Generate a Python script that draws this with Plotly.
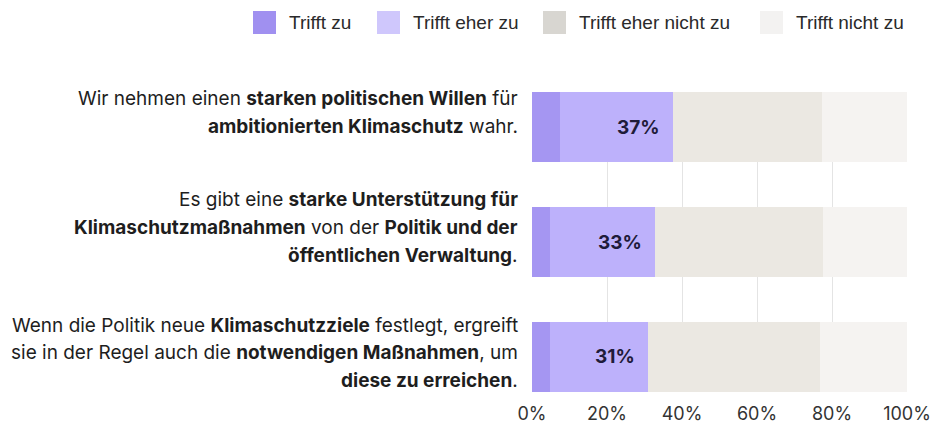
import plotly.graph_objects as go

# ---------------- data ----------------
statements = [
    "Wir nehmen einen starken politischen Willen für ambitionierten Klimaschutz wahr.",
    "Es gibt eine starke Unterstützung für Klimaschutzmaßnahmen von der Politik und der öffentlichen Verwaltung.",
    "Wenn die Politik neue Klimaschutzziele festlegt, ergreift sie in der Regel auch die notwendigen Maßnahmen, um diese zu erreichen.",
]
statement_lines = [
    ["Wir nehmen einen <b>starken politischen Willen</b> für",
     "<b>ambitionierten Klimaschutz</b> wahr."],
    ["Es gibt eine <b>starke Unterstützung für</b>",
     "<b>Klimaschutzmaßnahmen</b> von der <b>Politik und der</b>",
     "<b>öffentlichen Verwaltung</b>."],
    ["Wenn die Politik neue <b>Klimaschutzziele</b> festlegt, ergreift",
     "sie in der Regel auch die <b>notwendigen Maßnahmen</b>, um",
     "<b>diese zu erreichen</b>."],
]
series_names = ["Trifft zu", "Trifft eher zu", "Trifft eher nicht zu", "Trifft nicht zu"]
trifft_zu = [7.5, 4.7, 4.7]
trifft_eher_zu = [30.2, 28.2, 26.2]
trifft_eher_nicht_zu = [39.6, 44.7, 45.8]
trifft_nicht_zu = [22.7, 22.4, 23.3]
agree_labels = ["37%", "33%", "31%"]
tick_values = [0, 20, 40, 60, 80, 100]
tick_labels = ["0%", "20%", "40%", "60%", "80%", "100%"]

# ---------------- style ----------------
colors = ["#a596f2", "#bdb1fb", "#ebe8e2", "#f5f3f1"]
legend_colors = ["#a090f0", "#cfc7fc", "#d8d6d1", "#f3f2f1"]
W, H = 939, 425
ML, MR, MT, MB = 532, 32, 92, 33
PW = W - ML - MR
PH = H - MT - MB
label_font = "Inter, Roboto, Arial, sans-serif"
label_offsets = [14.5, 14.7, 4.0]   # px upward shift of label block vs bar centre
line_gap = 27.8

series_values = [trifft_zu, trifft_eher_zu, trifft_eher_nicht_zu, trifft_nicht_zu]

fig = go.Figure()
for name, vals, col in zip(series_names, series_values, colors):
    fig.add_trace(go.Bar(
        y=statements, x=vals, name=name, orientation="h",
        marker=dict(color=col, line=dict(width=0)),
        showlegend=False, hoverinfo="x+name",
    ))

annotations = []
shapes = []

# value labels (sum of agree categories), anchored at the end of the 2nd segment
for s, a, b, lab in zip(statements, trifft_zu, trifft_eher_zu, agree_labels):
    annotations.append(dict(
        x=a + b, y=s, xref="x", yref="y", text=f"<b>{lab}</b>",
        xanchor="right", yanchor="middle", xshift=-11, showarrow=False,
        font=dict(family=label_font, size=19, color="#1f1b3a"),
    ))

# statement labels, one annotation per line
for s, lines, off in zip(statements, statement_lines, label_offsets):
    n = len(lines)
    for j, ln in enumerate(lines):
        shift = off - (j - (n - 1) / 2) * line_gap
        annotations.append(dict(
            x=(520 - ML) / PW, xref="paper", y=s, yref="y", yshift=shift,
            text=ln, xanchor="right", yanchor="middle", showarrow=False,
            font=dict(family=label_font, size=19, color="#1e1e1e"),
        ))

# custom legend
legend_sq_x = [253, 377, 543, 760]
sq = 23
leg_y = 22.5
def px_x(p):
    return (p - ML) / PW
def px_y(p):
    return (H - MB - p) / PH
for name, col, x0 in zip(series_names, legend_colors, legend_sq_x):
    shapes.append(dict(
        type="rect", xref="paper", yref="paper",
        x0=px_x(x0), x1=px_x(x0 + sq), y0=px_y(leg_y + sq / 2), y1=px_y(leg_y - sq / 2),
        fillcolor=col, line=dict(width=0), layer="above",
    ))
    annotations.append(dict(
        x=px_x(x0 + sq + 11), y=px_y(leg_y), xref="paper", yref="paper",
        text=name, xanchor="left", yanchor="middle", showarrow=False,
        font=dict(family="Liberation Sans, Arial, sans-serif", size=19, color="#2a2a2a"),
    ))

fig.update_layout(
    width=W, height=H,
    margin=dict(l=ML, r=MR, t=MT, b=MB, pad=0, autoexpand=False),
    barmode="stack", bargap=0.39,
    plot_bgcolor="white", paper_bgcolor="white",
    showlegend=False,
    xaxis=dict(
        range=[0, 100], tickvals=tick_values, ticktext=tick_labels,
        showgrid=True, gridcolor="#e4e4e4", gridwidth=1, zeroline=False,
        ticks="outside", ticklen=5, tickcolor="rgba(0,0,0,0)",
        tickfont=dict(family=label_font, size=18, color="#333333"),
        automargin=False, fixedrange=True,
    ),
    yaxis=dict(
        categoryorder="array", categoryarray=statements,
        range=[2.305, -0.305], showticklabels=False, showgrid=False,
        zeroline=False, automargin=False, fixedrange=True,
    ),
    annotations=annotations, shapes=shapes,
)

fig.write_html("out.html", include_plotlyjs=True, config={"displayModeBar": False})
